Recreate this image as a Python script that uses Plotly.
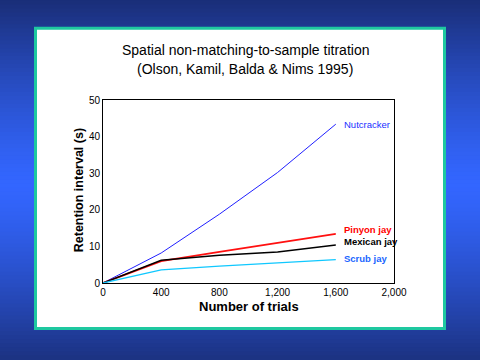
import plotly.graph_objects as go

trials = [0, 400, 800, 1200, 1600]
nutcracker = [0, 8.2, 18.8, 30.2, 43.4]
pinyon_jay = [0, 6.0, 8.5, 11.0, 13.4]
mexican_jay = [0, 6.2, 7.6, 8.5, 10.4]
scrub_jay = [0, 3.6, 4.6, 5.4, 6.4]

series_names = ["Nutcracker", "Pinyon jay", "Mexican jay", "Scrub jay"]
series_values = [nutcracker, pinyon_jay, mexican_jay, scrub_jay]
line_colors = ["#2020ff", "#ff1010", "#000000", "#10c8ff"]
line_widths = [1, 1.8, 1.5, 1.3]
label_colors = ["#2030ff", "#ff0000", "#000000", "#1a66ff"]
label_y = [43.4, 14.6, 11.3, 6.6]
label_bold = [False, True, True, True]

W, H = 480, 360
L, R, T, B = 103, 394, 99.5, 283.0

def px(x):
    return (x - L) / (R - L)

def py(y):
    return (B - y) / (B - T)

fig = go.Figure()
for name, vals, c, w in zip(series_names, series_values, line_colors, line_widths):
    fig.add_trace(go.Scatter(x=trials, y=vals, mode="lines", name=name,
                             line=dict(color=c, width=w), showlegend=False, hoverinfo="skip"))

shapes = []
def lerp(a, b, t):
    return tuple(int(round(a[i] + (b[i] - a[i]) * t)) for i in range(3))
dark = (0x1a, 0x2e, 0x78)
bright = (0x33, 0x66, 0xff)
n = 90
for i in range(n):
    y0 = i * H / n
    y1 = (i + 1) * H / n
    yc = (y0 + y1) / 2
    d = abs(yc - 185) / 185
    t = min(1.0, d) ** 1.3
    col = lerp(bright, dark, t)
    shapes.append(dict(type="rect", xref="paper", yref="paper", layer="below",
                       x0=px(-2), x1=px(W + 2), y0=py(y1 + 0.5), y1=py(y0 - 0.5),
                       line=dict(width=0), fillcolor="rgb(%d,%d,%d)" % col))
shapes.append(dict(type="rect", xref="paper", yref="paper", layer="below",
                   x0=px(35.5), x1=px(444.5), y0=py(328.5), y1=py(27.5),
                   line=dict(color="#1ec8a0", width=3), fillcolor="white"))

fig.update_layout(
    width=W, height=H,
    margin=dict(l=L, r=W - R, t=T, b=H - B),
    paper_bgcolor="#1a2e78",
    plot_bgcolor="white",
    shapes=shapes,
    font=dict(family="Liberation Sans, Arial, sans-serif", color="black"),
)
fig.update_xaxes(range=[0, 2000], tickvals=[0, 400, 800, 1200, 1600, 2000],
                 ticktext=["0", "400", "800", "1,200", "1,600", "2,000"],
                 showgrid=False, zeroline=False, showline=True, linecolor="black",
                 linewidth=1, mirror=True, ticks="", tickfont=dict(size=10, family="Liberation Sans"))
fig.update_yaxes(range=[0, 50], tickvals=[0, 10, 20, 30, 40, 50],
                 showgrid=False, zeroline=False, showline=True, linecolor="black",
                 linewidth=1, mirror=True, ticks="", tickfont=dict(size=10, family="Liberation Sans"))

ann = []
ann.append(dict(text="Spatial non-matching-to-sample titration", xref="paper", yref="paper",
                x=px(245), y=py(49), showarrow=False, font=dict(size=14),
                xanchor="center", yanchor="middle"))
ann.append(dict(text="(Olson, Kamil, Balda &amp; Nims 1995)", xref="paper", yref="paper",
                x=px(245), y=py(68), showarrow=False, font=dict(size=14),
                xanchor="center", yanchor="middle"))
ann.append(dict(text="<b>Number of trials</b>", xref="paper", yref="paper",
                x=px(249), y=py(307), showarrow=False, font=dict(size=13),
                xanchor="center", yanchor="middle"))
ann.append(dict(text="<b>Retention interval (s)</b>", xref="paper", yref="paper",
                x=px(79), y=py(190), showarrow=False, font=dict(size=12.5), textangle=-90,
                xanchor="center", yanchor="middle"))
for name, c, ly, b in zip(series_names, label_colors, label_y, label_bold):
    ann.append(dict(text=("<b>%s</b>" % name) if b else name, x=1640, y=ly,
                    xref="x", yref="y", showarrow=False, xanchor="left", yanchor="middle",
                    font=dict(size=9.5, color=c)))
fig.update_layout(annotations=ann)

fig.write_html("out.html", config={"displayModeBar": False},
               post_script="document.body.style.margin='0';document.body.style.overflow='hidden';")
